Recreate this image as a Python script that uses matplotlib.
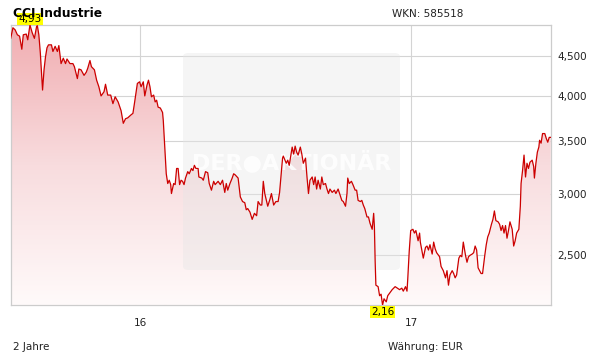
import numpy as np
import pandas as pd
import matplotlib
matplotlib.use('Agg')
import matplotlib.pyplot as plt
import matplotlib.dates as mdates
from matplotlib.patches import FancyBboxPatch
from matplotlib.colors import LinearSegmentedColormap
from matplotlib.ticker import FixedLocator, FuncFormatter, NullLocator

title = 'CCI Industrie'
wkn = 'WKN: 585518'
period = '2 Jahre'
currency = 'Währung: EUR'

start = '2015-07-10'
days = [0, 3, 6, 9, 12, 15, 17, 21, 23, 26, 29, 32, 35, 36, 38, 40, 43, 45, 47, 49,
        51, 55, 57, 60, 63, 65, 68, 71, 74, 76, 80, 84, 86, 90, 92, 95, 99, 102, 104, 107,
        109, 113, 116, 119, 122, 126, 128, 131, 135, 138, 141, 145, 149, 152, 155, 158, 162, 165, 167, 171,
        174, 176, 179, 181,
        184, 186, 188, 190, 193, 195, 197, 199, 202, 205, 206, 208, 210, 212, 214, 216, 217, 220, 222, 224,
        226, 228, 230, 232, 234, 236, 239, 241, 244, 246, 248, 250, 253, 254, 258, 260, 263, 266, 268, 271,
        274, 276, 280, 283, 286, 289, 291, 293, 296, 299, 301, 303, 307, 310, 313, 316, 318, 320, 323, 326,
        329, 332, 334, 337, 339, 341, 343, 347, 350, 352, 355, 358, 361, 363, 365, 367,
        368, 372, 374, 376, 380, 382, 384, 386, 388, 391, 393, 395, 398, 400, 402, 404, 407, 409, 411, 413,
        415, 418, 420, 422, 425, 427, 429, 431, 434, 437, 439, 442, 445, 447, 449, 452, 454, 455, 457, 460,
        462, 465, 467, 469, 472, 474, 476, 478, 481, 483, 485, 488, 490, 491, 492, 493, 496, 498, 500, 502,
        504, 507, 509, 512, 515, 519, 522, 525, 528, 530, 533, 535, 536, 538, 540, 543, 545, 547, 550, 552,
        553, 555, 557, 560, 562, 564, 566, 569, 571, 573, 575, 579, 581, 584, 587, 589, 591, 593, 596, 598,
        600, 602, 605, 607, 609, 611, 614, 616, 618, 620, 623, 625, 627, 629, 631, 633, 635, 637, 640, 642,
        644, 646, 649, 651, 653, 655, 658, 660, 662, 664, 666, 668, 670, 672, 674, 677, 679, 681, 683, 686,
        688, 689, 691, 693, 695, 697, 699, 701, 704, 706, 707, 709, 711, 713, 714, 716, 718, 721, 723, 725,
        727, 729]
price = [4.74, 4.89, 4.86, 4.79, 4.77, 4.59, 4.79, 4.80, 4.72, 4.93, 4.82, 4.74, 4.91, 4.92, 4.79, 4.54, 4.07, 4.32, 4.49, 4.61,
         4.65, 4.65, 4.56, 4.63, 4.56, 4.64, 4.40, 4.47, 4.40, 4.46, 4.40, 4.40, 4.36, 4.21, 4.33, 4.32, 4.25, 4.29, 4.34, 4.44,
         4.36, 4.32, 4.19, 4.11, 4.00, 4.05, 4.14, 4.01, 4.01, 3.91, 3.99, 3.93, 3.83, 3.69, 3.74, 3.75, 3.78, 3.80, 3.91, 4.15,
         4.17, 4.11, 4.17, 4.00,
         4.13, 4.19, 4.11, 3.99, 4.01, 3.93, 3.95, 3.87, 3.86, 3.81, 3.72, 3.44, 3.18, 3.09, 3.12, 3.08, 3.00, 3.09, 3.08, 3.23,
         3.23, 3.08, 3.12, 3.11, 3.08, 3.14, 3.20, 3.18, 3.23, 3.21, 3.26, 3.23, 3.23, 3.15, 3.14, 3.12, 3.20, 3.19, 3.09, 3.03,
         3.11, 3.08, 3.11, 3.08, 3.12, 3.01, 3.09, 3.03, 3.09, 3.14, 3.18, 3.17, 3.14, 2.97, 2.93, 2.92, 2.86, 2.87, 2.84, 2.78,
         2.83, 2.81, 2.93, 2.90, 2.90, 3.11, 3.00, 2.89, 2.95, 3.00, 2.90, 2.93, 2.93, 3.01, 3.17, 3.33,
         3.35, 3.28, 3.31, 3.26, 3.44, 3.37, 3.45, 3.39, 3.36, 3.44, 3.37, 3.28, 3.33, 3.15, 3.00, 3.12, 3.15, 3.08, 3.15, 3.04,
         3.12, 3.04, 3.15, 3.08, 3.09, 3.04, 3.00, 3.04, 3.01, 3.03, 3.00, 3.04, 2.98, 2.94, 2.93, 2.89, 3.00, 3.14, 3.09, 3.11,
         3.08, 3.03, 3.03, 2.94, 2.93, 2.94, 2.90, 2.87, 2.80, 2.80, 2.75, 2.70, 2.83, 2.72, 2.46, 2.29, 2.28, 2.22, 2.23, 2.16,
         2.20, 2.18, 2.22, 2.24, 2.26, 2.28, 2.27, 2.26, 2.27, 2.25, 2.28, 2.25, 2.33, 2.53, 2.69, 2.70, 2.67, 2.69, 2.61, 2.67,
         2.60, 2.54, 2.48, 2.56, 2.57, 2.54, 2.58, 2.51, 2.60, 2.55, 2.52, 2.49, 2.42, 2.39, 2.34, 2.39, 2.29, 2.36, 2.39, 2.37,
         2.34, 2.36, 2.48, 2.50, 2.49, 2.60, 2.50, 2.45, 2.49, 2.50, 2.51, 2.52, 2.57, 2.54, 2.41, 2.39, 2.37, 2.37, 2.50, 2.58,
         2.64, 2.67, 2.74, 2.78, 2.85, 2.77, 2.76, 2.74, 2.69, 2.73, 2.67, 2.73, 2.63, 2.69, 2.76, 2.70, 2.57, 2.61, 2.67, 2.70,
         2.89, 3.09, 3.21, 3.36, 3.15, 3.28, 3.23, 3.29, 3.31, 3.25, 3.14, 3.28, 3.39, 3.44, 3.51, 3.48, 3.58, 3.58, 3.53, 3.49,
         3.54, 3.54]

yticks = [2.5, 3.0, 3.5, 4.0, 4.5]
xtick_dates = ['2016-01-01', '2017-01-01']
xtick_labels = ['16', '17']

W, H = 611, 364
fig = plt.figure(figsize=(W / 100, H / 100), dpi=100)
ax = fig.add_axes([10.7 / W, 1 - 305 / H, 540 / W, 280 / H])

dates = pd.Timestamp(start) + pd.to_timedelta(days, unit='D')
x = mdates.date2num(dates)
p = np.array(price)
lo, hi = p.min(), p.max()

ax.set_yscale('log')
ax.set_xlim(x[0], x[-1])
ax.set_ylim(lo, hi)
ax.set_autoscale_on(False)

# gradient fill below the line
poly = ax.fill_between(x, p, lo, color='none', lw=0)
cmap = LinearSegmentedColormap.from_list('pink', ['#fffafa', '#f8dcde', '#f1adb1'])
grad = np.linspace(0, 1, 256).reshape(-1, 1)
im = ax.imshow(grad, cmap=cmap, extent=[0, 1, 0, 1], transform=ax.transAxes,
               origin='lower', aspect='auto', zorder=1, interpolation='bilinear')
im.set_clip_path(poly.get_paths()[0], transform=ax.transData)
ax.set_xlim(x[0], x[-1])
ax.set_ylim(lo, hi)

# watermark
box = FancyBboxPatch((183 / W, 1 - 270 / H), 217 / W, 217 / H,
                     boxstyle='round,pad=0,rounding_size=0.01', transform=fig.transFigure,
                     fc='#e6e6e6', ec='none', alpha=0.4, zorder=2)
ax.add_patch(box)
ax.text(292 / W, 1 - 162 / H, 'DER●AKTIONÄR', transform=fig.transFigure, ha='center', va='center',
        fontsize=16, fontweight='bold', color='white', alpha=0.85, zorder=2.5)

ax.plot(x, p, color='#cc0000', lw=0.9, zorder=3)

# axes styling
ax.yaxis.tick_right()
ax.yaxis.set_major_locator(FixedLocator(yticks))
ax.yaxis.set_minor_locator(NullLocator())
ax.yaxis.set_major_formatter(FuncFormatter(lambda v, pos: f'{v:.3f}'.replace('.', ',')))
ax.set_xticks(mdates.date2num(pd.to_datetime(xtick_dates)))
ax.set_xticklabels(xtick_labels)
ax.tick_params(axis='y', length=0, pad=5, labelsize=7.5, colors='#222222')
ax.tick_params(axis='x', length=0, pad=9, labelsize=7.5, colors='#222222')
ax.grid(True, color='#d4d4d4', lw=0.8, zorder=0)
ax.set_axisbelow(True)
for s in ax.spines.values():
    s.set_color('#cccccc')
    s.set_linewidth(0.9)

# high / low labels
imax, imin = p.argmax(), p.argmin()
lab = dict(ha='center', va='center', fontsize=7.5, color='black', zorder=10, annotation_clip=False,
           bbox=dict(boxstyle='square,pad=0.1', fc='#ffff00', ec='none'))
ax.annotate(f'{p[imax]:.2f}'.replace('.', ','), xy=(x[imax], 1), xycoords=('data', 'axes fraction'),
            xytext=(0, 6), textcoords='offset pixels', **lab)
ax.annotate(f'{p[imin]:.2f}'.replace('.', ','), xy=(x[imin], 0), xycoords=('data', 'axes fraction'),
            xytext=(0, -7), textcoords='offset pixels', **lab)

fig.text(13 / W, 1 - 17 / H, title, fontsize=8.8, fontweight='bold', va='baseline', zorder=1)
fig.text(391.7 / W, 1 - 14 / H, wkn, fontsize=7.5, va='center', color='#222222')
fig.text(12.7 / W, 1 - 347 / H, period, fontsize=7.5, va='center', color='#222222')
fig.text(387.7 / W, 1 - 347 / H, currency, fontsize=7.5, va='center', color='#222222')

fig.savefig('out.png', dpi=100)
